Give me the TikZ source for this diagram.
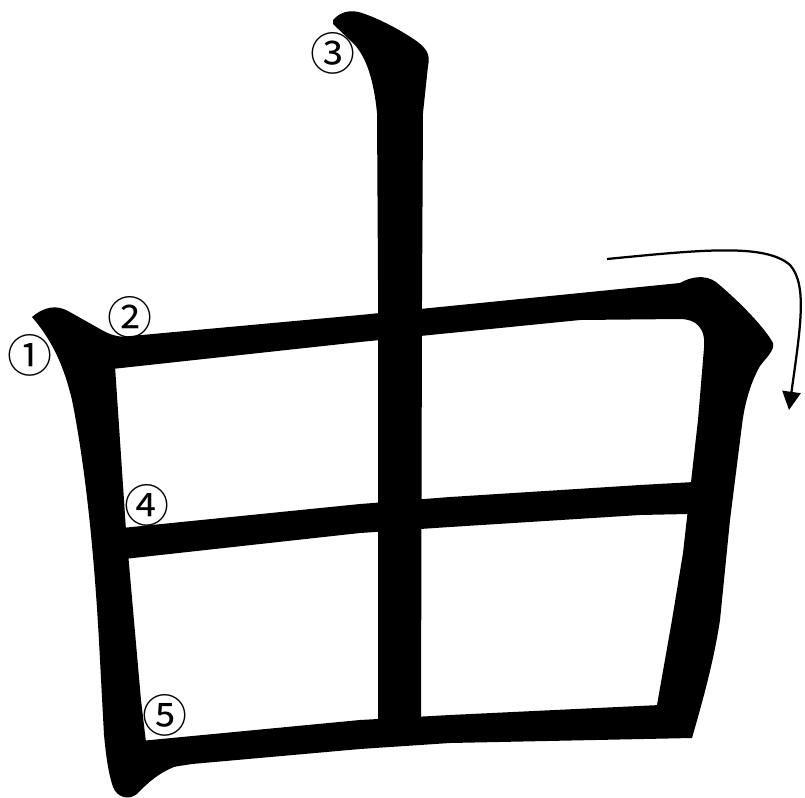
\documentclass[tikz,border=0pt]{standalone}
\usepackage{fontspec}
\newfontfamily\numfont{Noto Sans CJK JP}
\usetikzlibrary{arrows.meta}

\tikzset{
  kanji/.style={fill=black},
  num/.style={font=\numfont\fontsize{32}{32}\selectfont, inner sep=0pt},
  order/.style={line width=1.6pt, -{Triangle[length=13pt, width=13pt]}}
}

\begin{document}
\begin{tikzpicture}[x=0.025cm, y=-0.025cm]
                \useasboundingbox (0,0) rectangle (805,798);

                % stroke 1: left side with hook
                \fill[kanji] (32,317) .. controls (45,306) and (57,305) .. (68,311) -- (100,329)
                    .. controls (110,335) and (118,337) .. (128,337) -- (120,355) -- (115,366)
                    -- (126,530) -- (141,700) -- (146,742) -- (192,762)
                    .. controls (168,766) and (152,778) .. (137,794)
                    .. controls (128,801) and (117,797) .. (113,787)
                    .. controls (108,772) and (106,755) .. (104,735)
                    -- (100,660) .. controls (95,560) and (86,470) .. (72,400)
                    .. controls (63,362) and (50,338) .. (32,317) -- cycle;

                % stroke 2: top and right side
                \fill[kanji] (120,337) -- (360,315) -- (450,306) -- (580,293) -- (680,283)
                    .. controls (690,277) and (705,274) .. (716,282)
                    .. controls (740,302) and (765,328) .. (773,343)
                    .. controls (775,350) and (766,358) .. (760,366)
                    .. controls (752,380) and (745,400) .. (742,425)
                    -- (730,520) -- (720,620) .. controls (714,660) and (703,700) .. (692,738)
                    -- (650,734) -- (657,705) -- (672,620) -- (683,553) -- (698,420)
                    -- (704,348) .. controls (706,328) and (696,319) .. (680,319)
                    -- (580,320) -- (450,333) -- (360,342) -- (112,369) -- cycle;

                % stroke 3: centre
                \fill[kanji] (333,20) .. controls (340,12) and (350,9) .. (362,13)
                    .. controls (380,19) and (400,30) .. (412,38)
                    .. controls (426,47) and (431,54) .. (428,66)
                    -- (423,113) -- (422,300) -- (421,725) -- (378,725) -- (378,280) -- (377,113)
                    .. controls (374,82) and (367,58) .. (354,44) -- (333,24) -- cycle;

                % stroke 4: middle bar
                \fill[kanji] (112,529) -- (360,504) -- (450,497) -- (640,485) -- (694,482)
                    -- (688,514) -- (640,515) -- (450,527) -- (360,533) -- (115,560) -- cycle;

                % stroke 5: bottom bar
                \fill[kanji] (140,741) -- (360,720) -- (450,715) -- (660,705)
                    -- (692,738) -- (450,743) -- (360,749) -- (192,764) -- (140,772) -- cycle;

                % stroke order marks
                \node[num] (n1) at (30,355) {①};
                \node[num] (n2) at (130,317) {②};
                \node[num] (n3) at (333,53) {③};
                \node[num] (n4) at (147,505) {④};
                \node[num] (n5) at (165,715) {⑤};

                % direction of stroke 2
                \coordinate (arrstart) at (607,259);
                \coordinate (arrend) at (789,410);
                \draw[order] (arrstart) .. controls (700,250) and (765,243) .. (790,265)
                    .. controls (808,285) and (800,330) .. (arrend);
\end{tikzpicture}
\end{document}
